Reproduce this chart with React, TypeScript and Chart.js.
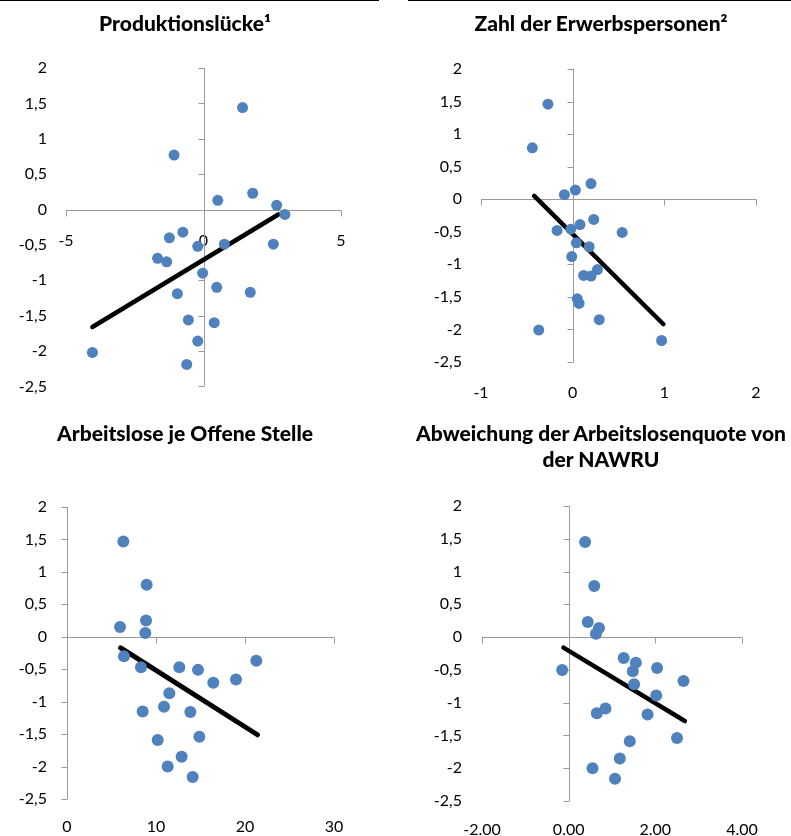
import React, { useEffect, useRef } from 'react';
import { Chart, registerables } from 'chart.js';

Chart.register(...registerables);

// ---------- Data ----------
const yTickMin = -2.5;
const yTickMax = 2;
const yTickStep = 0.5;

// Produktionslücke
const gapX = [1.42, -1.07, 1.79, 0.52, 2.66, 2.96, -1.24, -0.75, -0.21, 0.76, 2.54, -1.67, -1.34, -0.03, 0.48, -0.95, 1.70, -0.55, 0.39, -0.21, -4.04, -0.61];
const gapY = [1.44, 0.77, 0.23, 0.13, 0.06, -0.07, -0.40, -0.32, -0.52, -0.49, -0.49, -0.69, -0.74, -0.90, -1.10, -1.19, -1.17, -1.56, -1.60, -1.86, -2.02, -2.19];
const gapTrendX = [-4.04, 2.72];
const gapTrendY = [-1.66, -0.07];

// Zahl der Erwerbspersonen
const labX = [-0.27, -0.44, 0.20, 0.03, -0.09, 0.23, 0.08, -0.17, -0.02, 0.54, 0.04, 0.18, -0.01, 0.27, 0.12, 0.20, 0.05, 0.07, 0.29, -0.37, 0.97];
const labY = [1.46, 0.79, 0.24, 0.14, 0.07, -0.31, -0.39, -0.48, -0.46, -0.51, -0.67, -0.73, -0.88, -1.08, -1.17, -1.18, -1.53, -1.60, -1.85, -2.01, -2.17];
const labTrendX = [-0.42, 0.99];
const labTrendY = [0.05, -1.92];

// Arbeitslose je Offene Stelle
const uvX = [6.33, 8.95, 5.96, 8.88, 8.8, 6.4, 8.31, 12.62, 14.72, 16.44, 18.99, 21.27, 11.5, 8.5, 10.9, 13.86, 10.19, 14.87, 12.88, 11.31, 14.12];
const uvY = [1.47, 0.80, 0.15, 0.25, 0.06, -0.30, -0.47, -0.47, -0.51, -0.71, -0.66, -0.37, -0.87, -1.15, -1.08, -1.16, -1.59, -1.54, -1.85, -2.00, -2.16];
const uvTrendX = [6.03, 21.4];
const uvTrendY = [-0.17, -1.51];

// Abweichung der Arbeitslosenquote von der NAWRU
const nawruX = [0.38, 0.59, 0.44, 0.70, 0.63, 1.27, 1.55, 1.48, -0.15, 2.04, 2.65, 1.51, 2.02, 0.85, 0.65, 1.82, 2.50, 1.41, 1.18, 0.55, 1.07];
const nawruY = [1.45, 0.78, 0.23, 0.14, 0.05, -0.32, -0.39, -0.52, -0.50, -0.47, -0.67, -0.72, -0.89, -1.09, -1.16, -1.18, -1.54, -1.59, -1.85, -2.00, -2.16];
const nawruTrendX = [-0.12, 2.68];
const nawruTrendY = [-0.16, -1.28];

const titles = [
  ['Produktionslücke¹'],
  ['Zahl der Erwerbspersonen²'],
  ['Arbeitslose je Offene Stelle'],
  ['Abweichung der Arbeitslosenquote von', 'der NAWRU'],
];

// ---------- Styles ----------
const BLUE = '#4F81BD';
const AXIS = '#9a9a9a';
const LABEL = '#000';
const TICK_FAMILY = 'Lato, "Open Sans", sans-serif';
const TITLE_FAMILY = 'Lato, "Open Sans", sans-serif';

const commaFmt = (v: number) => String(Math.round(v * 100) / 100).replace('.', ',');
const plainFmt = (v: number) => String(Math.round(v * 100) / 100);
const fixed2Fmt = (v: number) => (Math.round(v * 100) / 100).toFixed(2);

const zeroAxes = {
  id: 'zeroAxes',
  beforeDatasetsDraw(chart: any, _args: any, opts: any) {
    const { ctx, chartArea: a, scales } = chart;
    const xs = scales.x;
    const ys = scales.y;
    const x0 = Math.round(xs.getPixelForValue(0)) + 0.5;
    const y0 = Math.round(ys.getPixelForValue(0)) + 0.5;
    const len = opts.len || 6;
    ctx.save();
    ctx.strokeStyle = opts.color || AXIS;
    ctx.lineWidth = 1;
    ctx.beginPath();
    ctx.moveTo(Math.round(a.left), y0);
    ctx.lineTo(Math.round(a.right), y0);
    xs.ticks.forEach((t: any) => {
      const px = Math.round(xs.getPixelForValue(t.value)) + 0.5;
      ctx.moveTo(px, y0);
      ctx.lineTo(px, y0 + len);
    });
    ctx.moveTo(x0, Math.round(a.top));
    ctx.lineTo(x0, Math.round(a.bottom));
    ys.ticks.forEach((t: any) => {
      const py = Math.round(ys.getPixelForValue(t.value)) + 0.5;
      ctx.moveTo(x0 - len, py);
      ctx.lineTo(x0, py);
    });
    ctx.stroke();
    ctx.restore();
  },
};

type Panel = {
  left: number; top: number; width: number; height: number;
  area: { l: number; r: number; t: number; b: number };
  xMin: number; xMax: number; xStep: number; xAtZero: boolean;
  xFmt: (v: number) => string; xPad: number; yPad: number;
  xs: number[]; ys: number[]; tx: number[]; ty: number[];
  radius: number; lineW: number; fontSize: number;
};

const panels: Panel[] = [
  {
    left: 0, top: 0, width: 395, height: 415, area: { l: 66, r: 341, t: 68, b: 388 },
    xMin: -5, xMax: 5, xStep: 5, xAtZero: true, xFmt: plainFmt, xPad: 22, yPad: 19,
    xs: gapX, ys: gapY, tx: gapTrendX, ty: gapTrendY, radius: 5.5, lineW: 4.5, fontSize: 16,
  },
  {
    left: 395, top: 0, width: 396, height: 415, area: { l: 86, r: 361, t: 69, b: 362 },
    xMin: -1, xMax: 2, xStep: 1, xAtZero: false, xFmt: plainFmt, xPad: 21, yPad: 19,
    xs: labX, ys: labY, tx: labTrendX, ty: labTrendY, radius: 5.5, lineW: 4.5, fontSize: 16,
  },
  {
    left: 0, top: 415, width: 395, height: 421, area: { l: 67, r: 334, t: 92, b: 384 },
    xMin: 0, xMax: 30, xStep: 10, xAtZero: false, xFmt: plainFmt, xPad: 18, yPad: 20,
    xs: uvX, ys: uvY, tx: uvTrendX, ty: uvTrendY, radius: 6, lineW: 5, fontSize: 16,
  },
  {
    left: 395, top: 415, width: 396, height: 421, area: { l: 87, r: 347, t: 91, b: 386 },
    xMin: -2, xMax: 4, xStep: 2, xAtZero: false, xFmt: fixed2Fmt, xPad: 19, yPad: 20,
    xs: nawruX, ys: nawruY, tx: nawruTrendX, ty: nawruTrendY, radius: 6, lineW: 4.5, fontSize: 16,
  },
];

const Y_W = 60;

function buildConfig(p: Panel): any {
  const xH = p.height - p.area.b;
  return {
    type: 'scatter',
    data: {
      datasets: [
        {
          data: p.xs.map((x, i) => ({ x, y: p.ys[i] })),
          backgroundColor: BLUE,
          borderColor: BLUE,
          pointRadius: p.radius,
          pointHoverRadius: p.radius,
          pointBorderWidth: 0,
        },
        {
          data: p.tx.map((x, i) => ({ x, y: p.ty[i] })),
          showLine: true,
          borderColor: '#000',
          backgroundColor: '#000',
          borderWidth: p.lineW,
          borderCapStyle: 'round',
          pointRadius: 0,
          pointHoverRadius: 0,
        },
      ],
    },
    options: {
      responsive: false,
      animation: false,
      devicePixelRatio: 1,
      events: [],
      layout: {
        padding: {
          left: p.area.l - Y_W,
          right: p.width - p.area.r,
          top: p.area.t,
          bottom: p.xAtZero ? p.height - p.area.b : 0,
        },
      },
      plugins: {
        legend: { display: false },
        tooltip: { enabled: false },
        title: { display: false },
        zeroAxes: { color: AXIS, len: 6 },
      },
      scales: {
        x: {
          type: 'linear',
          position: p.xAtZero ? { y: 0 } : 'bottom',
          min: p.xMin,
          max: p.xMax,
          ticks: {
            stepSize: p.xStep,
            autoSkip: false,
            maxRotation: 0,
            padding: p.xPad,
            color: LABEL,
            font: { family: TICK_FAMILY, size: p.fontSize },
            callback: (v: number) => p.xFmt(v),
          },
          grid: { display: false, drawTicks: false },
          border: { display: false },
          afterFit: p.xAtZero ? undefined : (s: any) => { s.height = xH; },
        },
        y: {
          type: 'linear',
          position: 'left',
          min: yTickMin,
          max: yTickMax,
          ticks: {
            stepSize: yTickStep,
            autoSkip: false,
            padding: p.yPad,
            color: LABEL,
            font: { family: TICK_FAMILY, size: p.fontSize },
            callback: (v: number) => commaFmt(v),
          },
          grid: { display: false, drawTicks: false },
          border: { display: false },
          afterFit: (s: any) => { s.width = Y_W; },
        },
      },
    },
    plugins: [zeroAxes],
  };
}

function PanelChart({ p }: { p: Panel }) {
  const ref = useRef<HTMLCanvasElement | null>(null);
  useEffect(() => {
    if (!ref.current) return;
    const chart = new Chart(ref.current, buildConfig(p));
    return () => chart.destroy();
  }, [p]);
  return (
    <canvas
      ref={ref}
      width={p.width}
      height={p.height}
      style={{ position: 'absolute', left: p.left, top: p.top, width: p.width, height: p.height }}
    />
  );
}

const titleBoxes = [
  { left: 0, width: 370, top: 10 },
  { left: 411, width: 380, top: 10 },
  { left: 0, width: 370, top: 420 },
  { left: 401, width: 400, top: 420 },
];

export default function App() {
  return (
    <div style={{ position: 'absolute', left: 0, top: 0, width: 791, height: 836, overflow: 'hidden', background: '#fff' }}>
      <div style={{ position: 'absolute', left: 0, top: 0, width: 379, height: 1, background: '#000' }} />
      <div style={{ position: 'absolute', left: 408, top: 0, width: 383, height: 1, background: '#000' }} />
      {panels.map((p, i) => (
        <PanelChart key={i} p={p} />
      ))}
      {titles.map((lines, i) => (
        <div
          key={'t' + i}
          style={{
            position: 'absolute',
            left: titleBoxes[i].left,
            top: titleBoxes[i].top,
            width: titleBoxes[i].width,
            textAlign: 'center',
            fontFamily: TITLE_FAMILY,
            fontWeight: 900,
            fontSize: 21,
            lineHeight: '26px',
            whiteSpace: 'nowrap',
            color: '#000',
          }}
        >
          {lines.map((l, j) => (
            <div key={j}>{l}</div>
          ))}
        </div>
      ))}
    </div>
  );
}
